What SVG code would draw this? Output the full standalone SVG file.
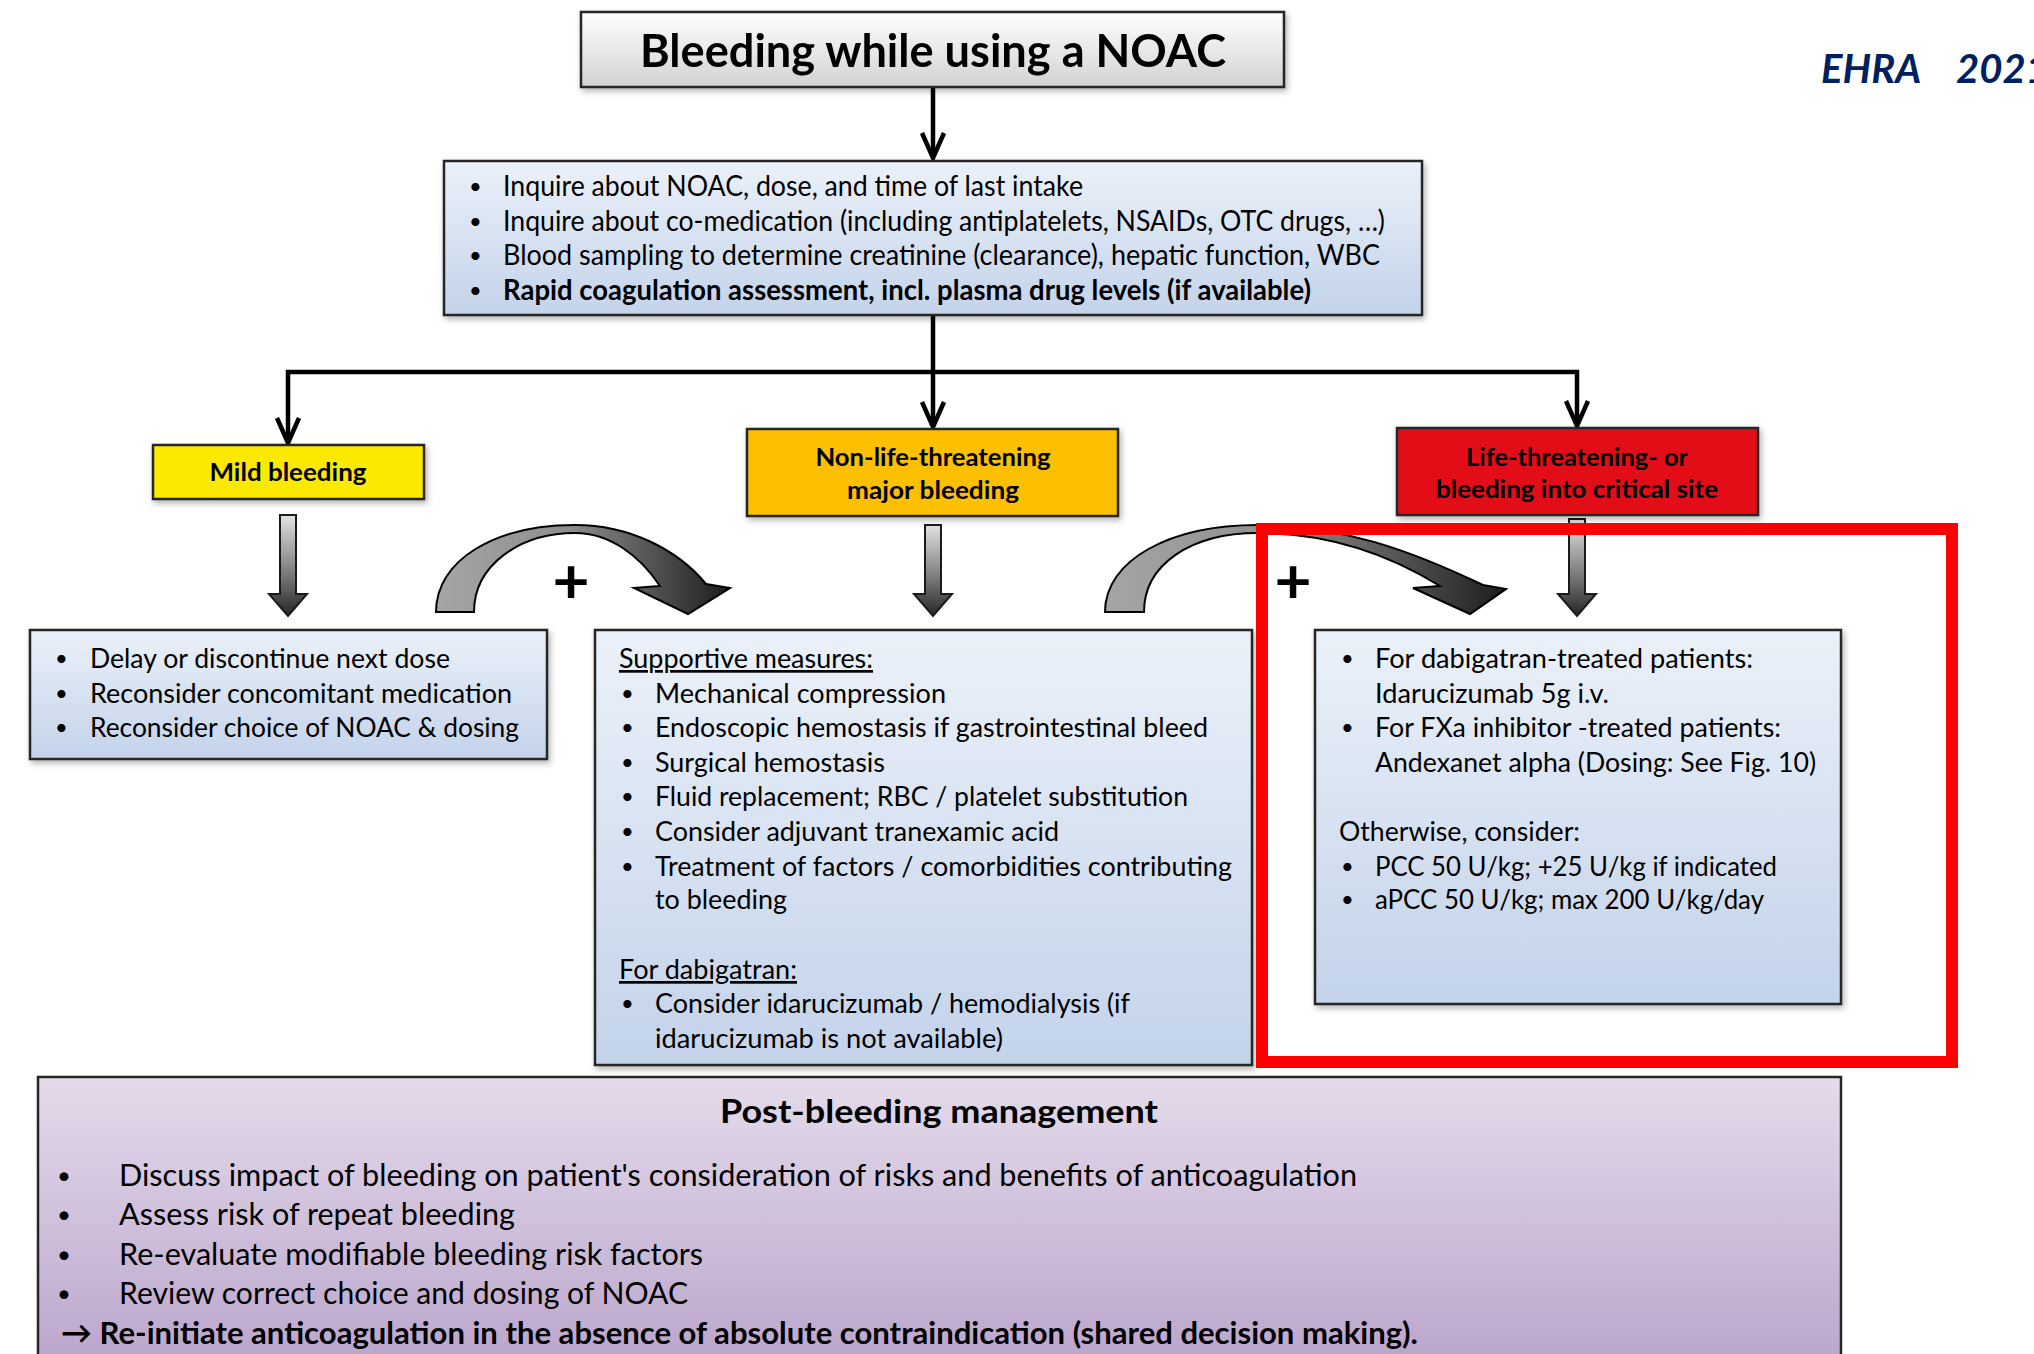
<svg xmlns="http://www.w3.org/2000/svg" width="2034" height="1354" viewBox="0 0 2034 1354">
<style>
text{font-family:Lato,"Liberation Sans",sans-serif;fill:#000}
.b{font-weight:bold}
.t27{font-size:27px}
.t28{font-size:28px}
.bul{font-size:22px}
.lab{font-size:25px;font-weight:bold;text-anchor:middle}
.box{stroke:#262626;stroke-width:2.5}
.conn{fill:none;stroke:#000;stroke-width:4.5}
.head{fill:none;stroke:#000;stroke-width:4.5;stroke-linejoin:miter}
.blk{fill:url(#gDown);stroke:#1a1a1a;stroke-width:2}
.plus{font-size:64px;font-weight:bold;text-anchor:middle}
.u{text-decoration:underline}
</style>
<defs>
<linearGradient id="gTitle" x1="0" y1="0" x2="0" y2="1"><stop offset="0" stop-color="#ffffff"/><stop offset="1" stop-color="#d2d2d2"/></linearGradient>
<linearGradient id="gBlue" x1="0" y1="0" x2="0" y2="1"><stop offset="0" stop-color="#ebf1f9"/><stop offset="1" stop-color="#c3d3ea"/></linearGradient>
<linearGradient id="gPurple" x1="0" y1="0" x2="0" y2="1"><stop offset="0" stop-color="#e5dbeb"/><stop offset="1" stop-color="#b9a3ca"/></linearGradient>
<linearGradient id="gDown" x1="0" y1="0" x2="0" y2="1"><stop offset="0" stop-color="#e2e2e2"/><stop offset="0.55" stop-color="#808080"/><stop offset="1" stop-color="#262626"/></linearGradient>
<linearGradient id="gCurve" x1="0" y1="0" x2="1" y2="0"><stop offset="0" stop-color="#a5a5a5"/><stop offset="0.45" stop-color="#8e8e8e"/><stop offset="1" stop-color="#1c1c1c"/></linearGradient>
<filter id="sh" x="-5%" y="-5%" width="110%" height="120%"><feDropShadow dx="2" dy="3" stdDeviation="3" flood-color="#000" flood-opacity="0.3"/></filter>
</defs>

<rect width="2034" height="1354" fill="#fff"/>

<g id="ehra"><text x="1821" y="83" style="font-size:40px;font-weight:bold;font-style:italic;fill:#002060"><tspan>EHRA</tspan><tspan x="1956">2021</tspan></text></g>

<g id="connectors">
<line class="conn" x1="933" y1="87" x2="933" y2="156"/>
<path class="head" d="M922,133 L933,158 L944,133"/>
<line class="conn" x1="933" y1="315" x2="933" y2="372"/>
<line class="conn" x1="286" y1="372" x2="1579" y2="372"/>
<line class="conn" x1="288" y1="370" x2="288" y2="441"/>
<path class="head" d="M277,418 L288,443 L299,418"/>
<line class="conn" x1="933" y1="372" x2="933" y2="425"/>
<path class="head" d="M922,402 L933,427 L944,402"/>
<line class="conn" x1="1577" y1="370" x2="1577" y2="424"/>
<path class="head" d="M1566,401 L1577,426 L1588,401"/>
<path class="blk" d="M280,515 H296 V594 H307 L288,616 L269,594 H280 Z"/>
<path class="blk" d="M925,525 H941 V594 H952 L933,616 L914,594 H925 Z"/>
<path class="blk" d="M1569,519 H1585 V594 H1596 L1577,616 L1558,594 H1569 Z"/>
<path fill="url(#gCurve)" stroke="#000" stroke-width="2" d="M436,612 C436,560 495,525 575,525 C630,525 678,550 706,584 L730,588 L688,614 L634,588 L660,586 C640,556 610,533 575,533 C520,533 474,565 474,612 Z"/>
<path fill="url(#gCurve)" stroke="#000" stroke-width="2" d="M1105,612 C1105,560 1170,525 1258,525 C1340,525 1410,550 1483,585 L1506,589 L1470,614 L1413,588 L1440,586 C1390,555 1330,533 1258,533 C1190,533 1144,565 1144,612 Z"/>
<text class="plus" x="571" y="603">+</text>
<text class="plus" x="1293" y="603">+</text>
</g>

<g id="title" filter="url(#sh)">
<rect class="box" x="581" y="12" width="703" height="75" fill="url(#gTitle)"/>
<text class="b" x="933" y="67" text-anchor="middle" style="font-size:46px" textLength="586" lengthAdjust="spacingAndGlyphs">Bleeding while using a NOAC</text>
</g>

<g id="assess">
<rect class="box" x="444" y="161" width="978" height="154" fill="url(#gBlue)" filter="url(#sh)"/>
<g class="bul"><text x="469" y="194">•</text><text x="469" y="229">•</text><text x="469" y="263">•</text><text x="469" y="298">•</text></g>
<g class="t28">
<text x="503" y="196" textLength="580" lengthAdjust="spacingAndGlyphs">Inquire about NOAC, dose, and time of last intake</text>
<text x="503" y="231" textLength="882" lengthAdjust="spacingAndGlyphs">Inquire about co-medication (including antiplatelets, NSAIDs, OTC drugs, …)</text>
<text x="503" y="265" textLength="877" lengthAdjust="spacingAndGlyphs">Blood sampling to determine creatinine (clearance), hepatic function, WBC</text>
<text class="b" x="503" y="300" textLength="808" lengthAdjust="spacingAndGlyphs">Rapid coagulation assessment, incl. plasma drug levels (if available)</text></g>
</g>

<g id="mild">
<rect class="box" x="153" y="445" width="271" height="54" fill="#fbea00" filter="url(#sh)"/>
<text class="lab" x="288" y="481" textLength="157" lengthAdjust="spacingAndGlyphs">Mild bleeding</text>
</g>

<g id="nonlife">
<rect class="box" x="747" y="429" width="371" height="87" fill="#fcc000" filter="url(#sh)"/>
<text class="lab" x="933" y="466" textLength="235" lengthAdjust="spacingAndGlyphs">Non-life-threatening</text>
<text class="lab" x="933" y="499" textLength="172" lengthAdjust="spacingAndGlyphs">major bleeding</text>
</g>

<g id="life">
<rect class="box" x="1397" y="428" width="361" height="87" fill="#e20e17" filter="url(#sh)"/>
<text class="lab" x="1577" y="466" textLength="222" lengthAdjust="spacingAndGlyphs">Life-threatening- or</text>
<text class="lab" x="1577" y="498" textLength="282" lengthAdjust="spacingAndGlyphs">bleeding into critical site</text>
</g>

<g id="mild-actions">
<rect class="box" x="30" y="630" width="517" height="129" fill="url(#gBlue)" filter="url(#sh)"/>
<g class="bul"><text x="55" y="666">•</text><text x="55" y="701">•</text><text x="55" y="735">•</text></g>
<g class="t27">
<text x="90" y="668" textLength="360" lengthAdjust="spacingAndGlyphs">Delay or discontinue next dose</text>
<text x="90" y="703" textLength="422" lengthAdjust="spacingAndGlyphs">Reconsider concomitant medication</text>
<text x="90" y="737" textLength="429" lengthAdjust="spacingAndGlyphs">Reconsider choice of NOAC &amp; dosing</text></g>
</g>

<g id="nonlife-actions">
<rect class="box" x="595" y="630" width="657" height="435" fill="url(#gBlue)" filter="url(#sh)"/>
<g class="bul"><text x="621" y="701">•</text><text x="621" y="735">•</text><text x="621" y="770">•</text><text x="621" y="804">•</text><text x="621" y="839">•</text><text x="621" y="874">•</text><text x="621" y="1011">•</text></g>
<g class="t27">
<text class="u" x="619" y="668" textLength="254" lengthAdjust="spacingAndGlyphs">Supportive measures:</text>
<text x="655" y="703" textLength="291" lengthAdjust="spacingAndGlyphs">Mechanical compression</text>
<text x="655" y="737" textLength="553" lengthAdjust="spacingAndGlyphs">Endoscopic hemostasis if gastrointestinal bleed</text>
<text x="655" y="772" textLength="230" lengthAdjust="spacingAndGlyphs">Surgical hemostasis</text>
<text x="655" y="806" textLength="533" lengthAdjust="spacingAndGlyphs">Fluid replacement; RBC / platelet substitution</text>
<text x="655" y="841" textLength="404" lengthAdjust="spacingAndGlyphs">Consider adjuvant tranexamic acid</text>
<text x="655" y="876" textLength="577" lengthAdjust="spacingAndGlyphs">Treatment of factors / comorbidities contributing</text>
<text x="655" y="909" textLength="132" lengthAdjust="spacingAndGlyphs">to bleeding</text>
<text class="u" x="619" y="979" textLength="178" lengthAdjust="spacingAndGlyphs">For dabigatran:</text>
<text x="655" y="1013" textLength="475" lengthAdjust="spacingAndGlyphs">Consider idarucizumab / hemodialysis (if</text>
<text x="655" y="1048" textLength="348" lengthAdjust="spacingAndGlyphs">idarucizumab is not available)</text>
</g>
</g>

<g id="life-actions">
<rect class="box" x="1315" y="630" width="526" height="374" fill="url(#gBlue)" filter="url(#sh)"/>
<g class="bul"><text x="1341" y="666">•</text><text x="1341" y="735">•</text><text x="1341" y="874">•</text><text x="1341" y="907">•</text></g>
<g class="t27">
<text x="1375" y="668" textLength="378" lengthAdjust="spacingAndGlyphs">For dabigatran-treated patients:</text>
<text x="1375" y="703" textLength="234" lengthAdjust="spacingAndGlyphs">Idarucizumab 5g i.v.</text>
<text x="1375" y="737" textLength="406" lengthAdjust="spacingAndGlyphs">For FXa inhibitor -treated patients:</text>
<text x="1375" y="772" textLength="441" lengthAdjust="spacingAndGlyphs">Andexanet alpha (Dosing: See Fig. 10)</text>
<text x="1339" y="841" textLength="241" lengthAdjust="spacingAndGlyphs">Otherwise, consider:</text>
<text x="1375" y="876" textLength="402" lengthAdjust="spacingAndGlyphs">PCC 50 U/kg; +25 U/kg if indicated</text>
<text x="1375" y="909" textLength="389" lengthAdjust="spacingAndGlyphs">aPCC 50 U/kg; max 200 U/kg/day</text>
</g>
</g>

<g id="highlight">
<rect x="1262" y="529" width="690" height="533" fill="none" stroke="#ff0000" stroke-width="12"/>
</g>

<g id="post-bleeding">
<rect class="box" x="38" y="1077" width="1803" height="300" fill="url(#gPurple)"/>
<text class="b" x="939" y="1123" text-anchor="middle" style="font-size:33px" textLength="438" lengthAdjust="spacingAndGlyphs">Post-bleeding management</text>
<g style="font-size:24px"><text x="57" y="1184">•</text><text x="57" y="1223">•</text><text x="57" y="1263">•</text><text x="57" y="1302">•</text></g>
<g style="font-size:31px">
<text x="119" y="1186" textLength="1238" lengthAdjust="spacingAndGlyphs">Discuss impact of bleeding on patient's consideration of risks and benefits of anticoagulation</text>
<text x="119" y="1225" textLength="396" lengthAdjust="spacingAndGlyphs">Assess risk of repeat bleeding</text>
<text x="119" y="1265" textLength="584" lengthAdjust="spacingAndGlyphs">Re-evaluate modifiable bleeding risk factors</text>
<text x="119" y="1304" textLength="569" lengthAdjust="spacingAndGlyphs">Review correct choice and dosing of NOAC</text>
<text class="b" x="61" y="1344" textLength="1357" lengthAdjust="spacingAndGlyphs">→ Re-initiate anticoagulation in the absence of absolute contraindication (shared decision making).</text>
</g>
</g>
</svg>
